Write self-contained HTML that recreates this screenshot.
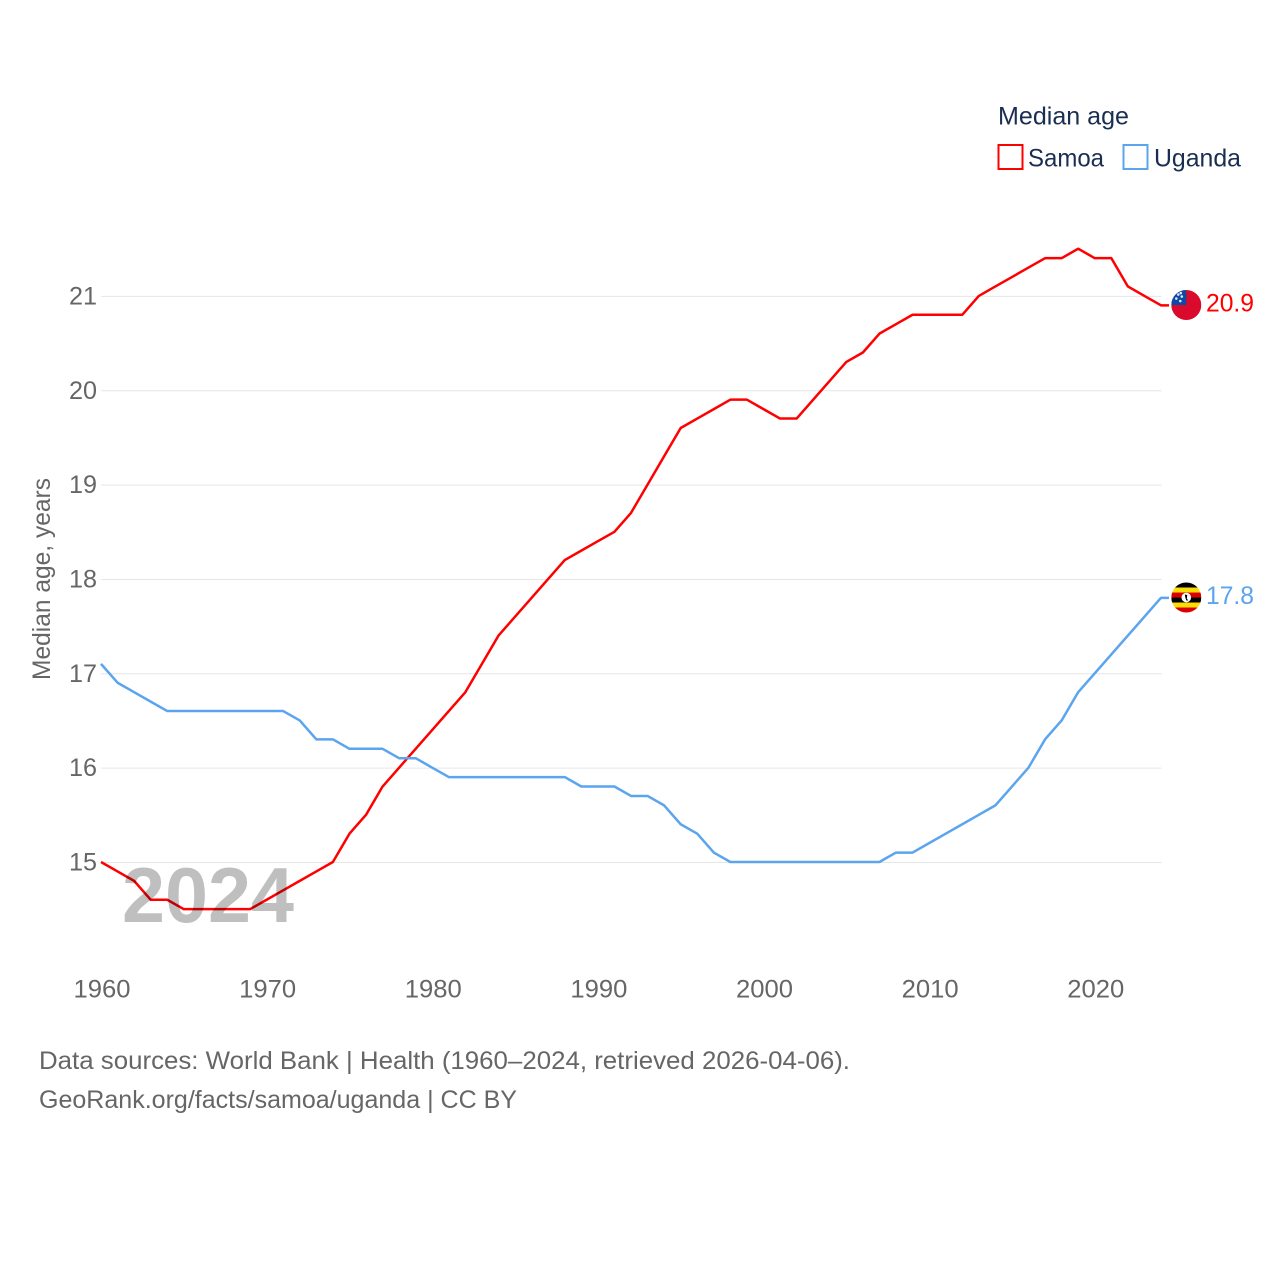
<!DOCTYPE html>
<html lang="en">
<head>
<meta charset="utf-8">
<title>Median age: Samoa and Uganda</title>
<style>
html,body{margin:0;padding:0;background:#fff;width:1280px;height:1280px;overflow:hidden}
svg{display:block}
text{font-family:"Liberation Sans",sans-serif;font-size:25px}
</style>
</head>
<body>
<svg id="chart" width="1280" height="1280" viewBox="0 0 1280 1280" xmlns="http://www.w3.org/2000/svg">
  <defs>
    <clipPath id="flag-clip"><circle cx="0" cy="0" r="15"></circle></clipPath>
  </defs>
  <g id="grid"></g>
  <g id="y-axis"></g>
  <g id="x-axis"></g>
  <text transform="translate(50,680) rotate(-90)" fill="#666666" textLength="202" lengthAdjust="spacingAndGlyphs">Median age, years</text>
  <g id="series"></g>
  <text x="122" y="922" fill="#000000" fill-opacity="0.25" style="font-size:78px;font-weight:bold" textLength="172" lengthAdjust="spacingAndGlyphs">2024</text>
  <g id="end-markers"></g>

  <g>
    <text x="998" y="124.5" fill="#1a2e52" textLength="131" lengthAdjust="spacingAndGlyphs">Median age</text>
    <g>
      <rect x="998.5" y="145" width="24" height="24" fill="#ffffff" stroke="#ff0000" stroke-width="2"></rect>
      <text x="1028" y="166.5" fill="#1a2e52" textLength="76" lengthAdjust="spacingAndGlyphs">Samoa</text>
    </g>
    <g>
      <rect x="1123.5" y="145" width="24" height="24" fill="#ffffff" stroke="#5ba4ee" stroke-width="2"></rect>
      <text x="1154" y="166.5" fill="#1a2e52" textLength="87" lengthAdjust="spacingAndGlyphs">Uganda</text>
    </g>
  </g>

  <text x="39" y="1069" fill="#666666" textLength="811" lengthAdjust="spacingAndGlyphs">Data sources: World Bank | Health (1960–2024, retrieved 2026-04-06).</text>
  <text x="39" y="1108" fill="#666666" textLength="478" lengthAdjust="spacingAndGlyphs">GeoRank.org/facts/samoa/uganda | CC BY</text>
</svg>
<script>
const startYear = 1960;
const samoaValues = [15,14.9,14.8,14.6,14.6,14.5,14.5,14.5,14.5,14.5,14.6,14.7,14.8,14.9,15,15.3,15.5,15.8,16,16.2,16.4,16.6,16.8,17.1,17.4,17.6,17.8,18,18.2,18.3,18.4,18.5,18.7,19,19.3,19.6,19.7,19.8,19.9,19.9,19.8,19.7,19.7,19.9,20.1,20.3,20.4,20.6,20.7,20.8,20.8,20.8,20.8,21,21.1,21.2,21.3,21.4,21.4,21.5,21.4,21.4,21.1,21,20.9];
const ugandaValues = [17.1,16.9,16.8,16.7,16.6,16.6,16.6,16.6,16.6,16.6,16.6,16.6,16.5,16.3,16.3,16.2,16.2,16.2,16.1,16.1,16,15.9,15.9,15.9,15.9,15.9,15.9,15.9,15.9,15.8,15.8,15.8,15.7,15.7,15.6,15.4,15.3,15.1,15,15,15,15,15,15,15,15,15,15,15.1,15.1,15.2,15.3,15.4,15.5,15.6,15.8,16,16.3,16.5,16.8,17,17.2,17.4,17.6,17.8];
const yTicks = [15,16,17,18,19,20,21];
const xTicks = [1960,1970,1980,1990,2000,2010,2020];

const NS = 'http://www.w3.org/2000/svg';
function xScale(year){ return 101 + (year - 1960) * 16.5625; }
function yScale(v){ return 862 - (v - 15) * 94.35; }
function make(tag, attrs, parent){
  const el = document.createElementNS(NS, tag);
  for (const k in attrs) el.setAttribute(k, attrs[k]);
  parent.appendChild(el);
  return el;
}

const grid = document.getElementById('grid');
const yAxis = document.getElementById('y-axis');
const xAxis = document.getElementById('x-axis');
const seriesGroup = document.getElementById('series');
const markers = document.getElementById('end-markers');

yTicks.forEach(function(t){
  const line = make('line', {x1:101, x2:1161.5, y1:yScale(t)+0.5, y2:yScale(t)+0.5, stroke:'#e6e6e6', 'stroke-width':1}, grid);
  
  
  const label = make('text', {x:69, y:yScale(t)+8.5, fill:'#666666', textLength:28, lengthAdjust:'spacingAndGlyphs'}, yAxis);
  
  
  label.textContent = String(t);
});

xTicks.forEach(function(t){
  const label = make('text', {x:xScale(t)-27.5, y:997.5, fill:'#666666', textLength:57, lengthAdjust:'spacingAndGlyphs'}, xAxis);
  
  
  label.textContent = String(t);
});

function drawLine(values, color, name){
  const pts = values.map(function(v, i){ return xScale(startYear + i) + ',' + yScale(v); });
  const last = values[values.length - 1];
  pts.push((xScale(startYear + values.length - 1) + 8) + ',' + yScale(last));
  const path = make('polyline', {points:pts.join(' '), fill:'none', stroke:color, 'stroke-width':2.5, 'stroke-linejoin':'round'}, seriesGroup);
  
  
}
drawLine(samoaValues, '#ff0000', 'line-samoa');
drawLine(ugandaValues, '#5ba4ee', 'line-uganda');

function drawValueLabel(value, color, name){
  const label = make('text', {x:1206, y:yScale(value)+6, fill:color, textLength:48, lengthAdjust:'spacingAndGlyphs'}, markers);
  
  
  label.textContent = value.toFixed(1);
}

function flagGroup(value, name){
  const g = make('g', {transform:'translate(1186.3,' + (yScale(value) - 0.3) + ')', 'clip-path':'url(#flag-clip)'}, markers);
  
  
  return g;
}

const samoaLast = samoaValues[samoaValues.length - 1];
const samoaFlag = flagGroup(samoaLast, 'flag-samoa');
make('rect', {x:-15, y:-15, width:30, height:30, fill:'#da0a2c'}, samoaFlag);
make('rect', {x:-15, y:-15, width:15, height:15, fill:'#0c4aa6'}, samoaFlag);
[[-8,-10.5],[-4.5,-8.5],[-10,-6.5],[-6,-4],[-5.5,-12]].forEach(function(s){
  make('circle', {cx:s[0], cy:s[1], r:1.3, fill:'#dfe8f5'}, samoaFlag);
});

const ugandaLast = ugandaValues[ugandaValues.length - 1];
const ugandaFlag = flagGroup(ugandaLast, 'flag-uganda');
['#000000','#fcdc04','#d90000','#000000','#fcdc04','#d90000'].forEach(function(c, i){
  make('rect', {x:-15, y:-15 + i * 5, width:30, height:5.2, fill:c}, ugandaFlag);
});
make('circle', {cx:0, cy:0, r:4.8, fill:'#ffffff'}, ugandaFlag);
make('path', {d:'M-1.5 -3 L1 -2.5 L0.5 1 L2 3 L0 3 L-1 0 Z', fill:'#000000'}, ugandaFlag);

drawValueLabel(samoaLast, '#ff0000', 'value-label-samoa');
drawValueLabel(ugandaLast, '#5ba4ee', 'value-label-uganda');
</script>
</body>
</html>
